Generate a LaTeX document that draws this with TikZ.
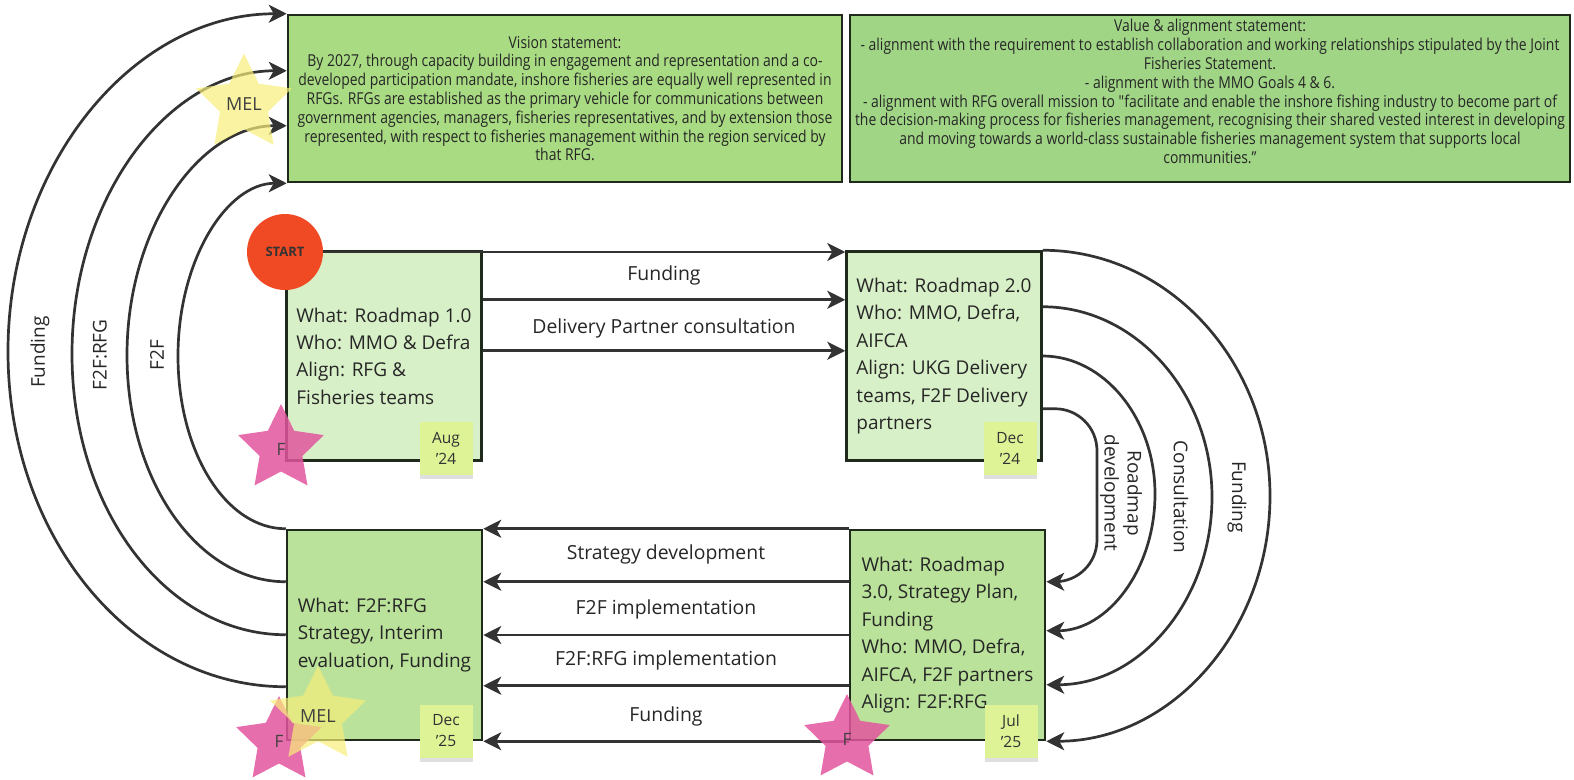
\documentclass[tikz,border=0pt]{standalone}
\usepackage{fontspec}
\setmainfont{Open Sans}
\newfontfamily\condfont[FakeStretch=0.85]{Open Sans}
\usetikzlibrary{arrows.meta,shapes.geometric,shadows}
\definecolor{visionfill}{HTML}{A8DB82}
\definecolor{valuefill}{HTML}{A0D586}
\definecolor{lightstage}{HTML}{D8F0C8}
\definecolor{midstage}{HTML}{BAE29A}
\definecolor{boxborder}{HTML}{1F2A1C}
\definecolor{arrowc}{HTML}{333333}
\definecolor{stickyc}{HTML}{DEF296}
\definecolor{pinkc}{HTML}{E2559E}
\definecolor{yellowc}{HTML}{F7EE7A}
\definecolor{startc}{HTML}{F04A24}
\begin{document}
\begin{tikzpicture}[x=1pt,y=-1pt,
  stmt/.style={draw=boxborder, line width=2.5pt, minimum height=167pt, inner sep=0pt,
    font=\condfont\fontsize{16.4}{18.8}\selectfont, align=center, text=black!85},
  stage/.style={draw=boxborder, line width=2.5pt, minimum width=195pt, minimum height=209pt,
    inner sep=0pt, align=left, font=\fontsize{19}{27.4}\selectfont, text=black!85},
  conn/.style={draw=arrowc, line width=2.7pt, -{Stealth[length=18pt,width=18pt,inset=5pt]}},
  lbl/.style={font=\fontsize{19.4}{23}\selectfont, text=black!85},
  sidelbl/.style={font=\fontsize{19}{23}\selectfont, text=black!85, align=center},
  sticky/.style={fill=stickyc, minimum width=53pt, minimum height=53pt, inner sep=0pt,
    align=center, font=\fontsize{15.5}{21}\selectfont, text=black!80,
    drop shadow={shadow xshift=0pt, shadow yshift=-4pt, opacity=0.25}},
  pinkstar/.style={star, star points=5, star point ratio=2.0, minimum size=90pt, inner sep=0pt,
    fill=pinkc, fill opacity=0.85, text opacity=1, font=\fontsize{17}{20}\selectfont, text=black!75},
  melstar/.style={star, star points=5, star point ratio=2.0, minimum size=90pt, inner sep=0pt,
    fill=yellowc, fill opacity=0.7, text opacity=1, font=\fontsize{18}{20}\selectfont, text=black!75}
]
\useasboundingbox (0,0) rectangle (1574,779);

% statements
\node[stmt, fill=visionfill, minimum width=554pt] (vision) at (565,98.5) {Vision statement:\\
By 2027, through capacity building in engagement and representation and a co-\\
developed participation mandate, inshore fisheries are equally well represented in\\
RFGs. RFGs are established as the primary vehicle for communications between\\
government agencies, managers, fisheries representatives, and by extension those\\
represented, with respect to fisheries management within the region serviced by\\
that RFG.};
\node[stmt, fill=valuefill, minimum width=720pt, text depth=14pt] (value) at (1210,98.5) {Value \& alignment statement:\\
- alignment with the requirement to establish collaboration and working relationships stipulated by the Joint\\
Fisheries Statement.\\
- alignment with the MMO Goals 4 \& 6.\\
- alignment with RFG overall mission to "facilitate and enable the inshore fishing industry to become part of\\
the decision-making process for fisheries management, recognising their shared vested interest in developing\\
and moving towards a world-class sustainable fisheries management system that supports local\\
communities.”};

% stage boxes
\node[stage, fill=lightstage] (r1) at (384,356) {What: Roadmap 1.0\\Who: MMO \& Defra\\Align: RFG \&\\Fisheries teams};
\node[stage, fill=lightstage] (r2) at (944,356) {What: Roadmap 2.0\\Who: MMO, Defra,\\AIFCA\\Align: UKG Delivery\\teams, F2F Delivery\\partners};
\node[stage, fill=midstage, minimum height=210pt] (r3) at (384.5,635) {What: F2F:RFG\\Strategy, Interim\\evaluation, Funding};
\node[stage, fill=midstage, minimum height=210pt] (r4) at (947.5,635) {What: Roadmap\\3.0, Strategy Plan,\\Funding\\Who: MMO, Defra,\\AIFCA, F2F partners\\Align: F2F:RFG};

% start
\node[circle, fill=startc, minimum size=76pt, inner sep=0pt, font=\bfseries\fontsize{13}{15}\selectfont, text=black!80] (start) at (285,252) {START};

% top arrows
\draw[conn] (start.east) -- (start.east -| r2.west);
\draw[conn] ([yshift=-49.5pt]r1.north east) -- ([yshift=-49.5pt]r2.north west)
  node[lbl, midway, yshift=24pt] (lf1) {Funding};
\draw[conn] ([yshift=-100.5pt]r1.north east) -- ([yshift=-100.5pt]r2.north west)
  node[lbl, midway, yshift=22pt] (lf2) {Delivery Partner consultation};

% bottom arrows
\draw[conn] (r4.north west) -- (r3.north east);
\draw[conn] ([yshift=-53pt]r4.north west) -- ([yshift=-53pt]r3.north east)
  node[lbl, midway, yshift=27pt] (lb1) {Strategy development};
\draw[conn] (r4.west) -- (r3.east)
  node[lbl, midway, yshift=26pt] (lb2) {F2F implementation};
\draw[conn] ([yshift=-157pt]r4.north west) -- ([yshift=-157pt]r3.north east)
  node[lbl, midway, yshift=25pt] (lb3) {F2F:RFG implementation};
\draw[conn] (r4.south west) -- (r3.south east)
  node[lbl, midway, yshift=25pt] (lb4) {Funding};

% right arcs
\draw[conn] (r2.north east) .. controls +(125,0) and +(0,-135) .. (1270,496)
  .. controls +(0,135) and +(125,0) .. (r4.south east);
\draw[conn] ([yshift=-56.5pt]r2.north east) .. controls +(93,0) and +(0,-104) .. (1212,497)
  .. controls +(0,104) and +(93,0) .. ([yshift=-156pt]r4.north east);
\draw[conn] (r2.east) .. controls +(61,0) and +(0,-76) .. (1155,494)
  .. controls +(0,76) and +(61,0) .. ([yshift=-102pt]r4.north east);
\draw[conn, rounded corners=42pt] ([yshift=-158.5pt]r2.north east) -| (1097,496) |- ([yshift=-53pt]r4.north east);
\node[sidelbl, rotate=-90] (rl1) at (1121,493) {Roadmap\\development};
\node[sidelbl, rotate=-90] (rl2) at (1181,497) {Consultation};
\node[sidelbl, rotate=-90] (rl3) at (1237,497) {Funding};

% left arcs
\draw[conn] ([yshift=-158pt]r3.north west) .. controls +(-154,0) and +(0,186) .. (8,351.5)
  .. controls +(0,-186) and +(-154,0) .. (vision.north west);
\draw[conn] ([yshift=-106pt]r3.north west) .. controls +(-119,0) and +(0,156) .. (72,354)
  .. controls +(0,-156) and +(-119,0) .. ([yshift=-57pt]vision.north west);
\draw[conn] ([yshift=-53pt]r3.north west) .. controls +(-88,0) and +(0,126) .. (127,355)
  .. controls +(0,-126) and +(-88,0) .. ([yshift=-112pt]vision.north west);
\draw[conn] (r3.north west) .. controls +(-60,0) and +(0,96) .. (178,356)
  .. controls +(0,-96) and +(-60,0) .. (vision.south west);
\node[sidelbl, rotate=90] (ll1) at (40,352) {Funding};
\node[sidelbl, rotate=90] (ll2) at (100,355) {F2F:RFG};
\node[sidelbl, rotate=90] (ll3) at (157,355) {F2F};

% sticky notes
\node[sticky] (n1) at (446,448) {Aug\\'24};
\node[sticky] (n2) at (1010,448) {Dec\\'24};
\node[sticky] (n3) at (446,731) {Dec\\'25};
\node[sticky] (n4) at (1011,731) {Jul\\'25};

% stars
\node[pinkstar] (p1) at (281,449) {F};
\node[pinkstar] (p2) at (279,741) {F};
\node[pinkstar] (p3) at (847,739) {F};
\node[melstar] (m1) at (244,104) {MEL};
\node[melstar] (m2) at (318,716) {MEL};
\end{tikzpicture}
\end{document}
